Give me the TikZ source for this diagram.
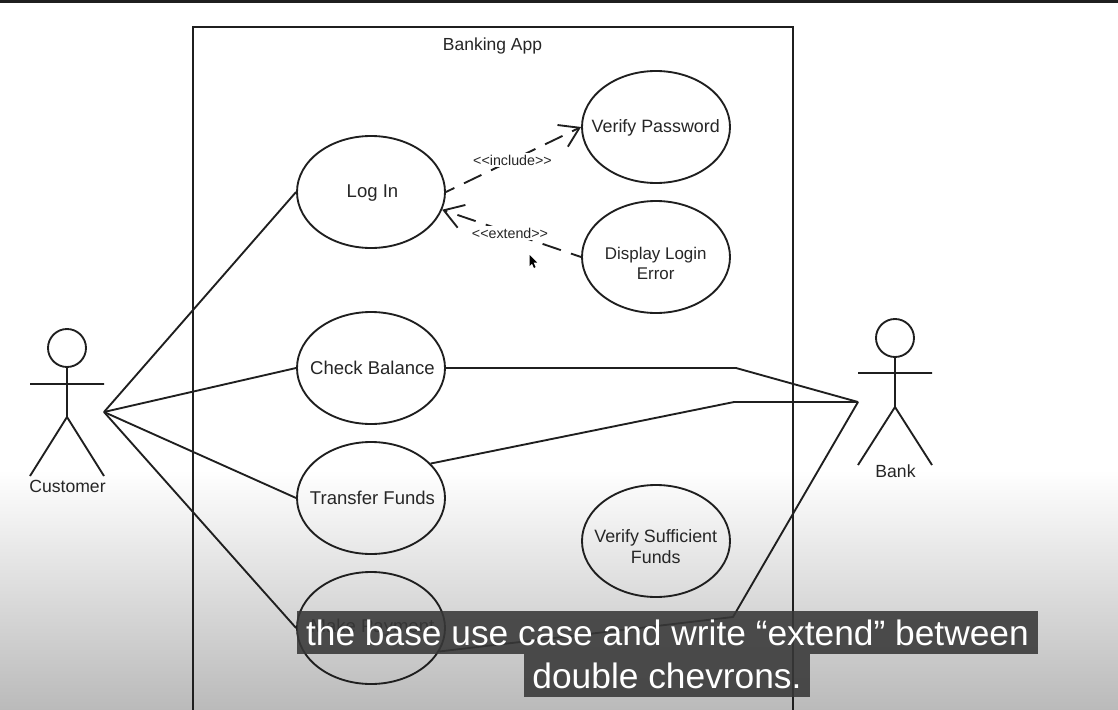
\documentclass[tikz,border=0pt]{standalone}
\usepackage{fontspec}
\setmainfont{Liberation Sans}
\usetikzlibrary{arrows.meta,shapes.geometric}
\tikzset{
  x=0.75pt,y=-0.75pt,
  ln/.style={draw=black!88,line width=1.4pt},
  usecase/.style={ellipse,draw=black!88,line width=1.4pt,minimum width=111pt,minimum height=84pt,inner sep=0pt},
  uctext/.style={inner sep=0pt,align=center,font=\fontsize{13.9pt}{15pt}\selectfont,text=black!85,xshift=1.1pt},
  ucsmall/.style={inner sep=0pt,align=center,text=black!85,font=\fontsize{13.4pt}{15.5pt}\selectfont,xshift=-0.2pt},
  dep/.style={draw=black!88,line width=1.4pt,dash pattern=on 14.5pt off 8pt,-{Straight Barb[length=14pt,width=18pt,line width=1.4pt]}},
  deplabel/.style={fill=white,inner sep=1pt,font=\fontsize{10.7pt}{12pt}\selectfont,text=black!85},
  actorlabel/.style={inner sep=0pt,font=\fontsize{13.2pt}{15pt}\selectfont,text=black!85},
  caption/.style={fill=black!78,fill opacity=0.88,text opacity=1,text=white,inner sep=0pt,minimum height=32.25pt,font=\fontsize{26.5pt}{30pt}\selectfont}
}
\begin{document}
\begin{tikzpicture}
\useasboundingbox (0,0) rectangle (1118,710);
\clip (0,0) rectangle (1118,710);
\fill[white] (0,0) rectangle (1118,710);
\shade[top color=white,bottom color=black!27] (0,470) rectangle (1118,710);
\fill[black!88] (0,0) rectangle (1118,3);
% system boundary
\draw[ln,line width=1.5pt] (193,725) -- (193,27) -- (793,27) -- (793,725);
\node[actorlabel,font=\fontsize{13.1pt}{15pt}\selectfont] (title) at (492.5,46) {Banking App};
% use cases
\node[usecase,label={[uctext,yshift=-0.75pt]center:Log In}] (login) at (371,192) {};
\node[usecase,label={[ucsmall,yshift=-0.75pt]center:Verify Password}] (verify) at (656,127) {};
\node[usecase,label={[ucsmall,font=\fontsize{12.7pt}{15pt}\selectfont,yshift=-4.5pt]center:Display Login\\Error}] (error) at (656,257) {};
\node[usecase,label={[uctext,yshift=-0.25pt]center:Check Balance}] (balance) at (371,368) {};
\node[usecase,label={[uctext,yshift=0pt]center:Transfer Funds}] (transfer) at (371,498) {};
\node[usecase,label={[uctext,yshift=0pt]center:Make Payment}] (payment) at (371,628) {};
\node[usecase,label={[ucsmall,yshift=-4pt]center:Verify Sufficient\\Funds}] (funds) at (656,541) {};
% customer
\node[circle,ln,minimum size=28.5pt,inner sep=0pt] (chead) at (67,348) {};
\coordinate (chip) at (67,417);
\coordinate (carmL) at (30,384);
\coordinate (carmR) at (104,384);
\coordinate (clegL) at (30,476);
\coordinate (clegR) at (104,476);
\coordinate (cport) at (104,412);
\draw[ln] (chead.south) -- (chip) (carmL) -- (carmR) (clegL) -- (chip) -- (clegR);
\node[actorlabel] (customer) at (67.5,486.5) {Customer};
% bank
\node[circle,ln,minimum size=28.5pt,inner sep=0pt] (bhead) at (895,338) {};
\coordinate (bhip) at (895,407);
\coordinate (barmL) at (858,373);
\coordinate (barmR) at (932,373);
\coordinate (blegL) at (858,465);
\coordinate (blegR) at (932,465);
\coordinate (bport) at (858,402);
\draw[ln] (bhead.south) -- (bhip) (barmL) -- (barmR) (blegL) -- (bhip) -- (blegR);
\node[actorlabel] (bank) at (895.5,471) {Bank};
% associations
\draw[ln] (cport) -- (login.west);
\draw[ln] (cport) -- (balance.west);
\draw[ln] (cport) -- (transfer.west);
\draw[ln] (cport) -- (payment.west);
\coordinate (k1) at (736,368);
\coordinate (k2) at (734,402);
\coordinate (k3) at (733,617);
\draw[ln] (balance.east) -- (k1) -- (bport);
\draw[ln] (transfer.30) -- (k2) -- (bport);
\draw[ln] (payment.-19) -- (k3) -- (bport);
% dependencies
\draw[dep,dash phase=7.5pt] (login.east) -- (verify.west);
\draw[dep,dash phase=6.5pt] (error.west) -- (login.-14);
\node[deplabel] (inc) at (512.5,160) {<{}<include>{}>};
\node[deplabel] (ext) at (510,233) {<{}<extend>{}>};
% pointer
\fill[black] (529.5,255) -- (529.5,266) -- (532,263.5) -- (534,268) -- (535.5,267) -- (533.5,262.5) -- (537,262.5) -- cycle;
% caption
\node[caption,minimum width=555.75pt] (cap1) at (667.5,632.5) {the base use case and write “extend” between};
\node[caption,minimum width=214.5pt] (cap2) at (667,675.5) {double chevrons.};
\end{tikzpicture}
\end{document}
